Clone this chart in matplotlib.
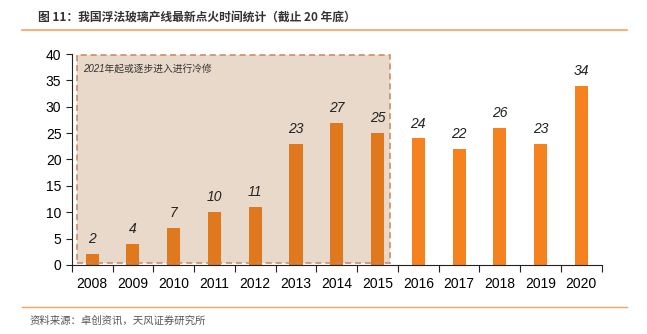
import matplotlib
matplotlib.use("Agg")
import matplotlib.pyplot as plt
from matplotlib.patches import Rectangle

plt.rcParams['font.family'] = ['Liberation Sans', 'Noto Sans CJK SC', 'DejaVu Sans']

years = ['2008', '2009', '2010', '2011', '2012', '2013', '2014', '2015',
         '2016', '2017', '2018', '2019', '2020']
counts = [2, 4, 7, 10, 11, 23, 27, 25, 24, 22, 26, 23, 34]
n_boxed = 8  # 2008-2015 sit inside the shaded box
yticks = [0, 5, 10, 15, 20, 25, 30, 35, 40]
title = '图 11：我国浮法玻璃产线最新点火时间统计（截止 20 年底）'
source = '资料来源：卓创资讯，天风证券研究所'
note = '2021年起或逐步进入进行冷修'

fig = plt.figure(figsize=(6.47, 3.34), dpi=100)
ax = fig.add_axes([0.111, 0.207, 0.819, 0.631])

x = list(range(len(years)))
colors = ['#e0781e' if i < n_boxed else '#f5821f' for i in x]
ax.bar(x, counts, width=0.32, color=colors, zorder=2)
for i, v in zip(x, counts):
    ax.text(i, v + 1.5, str(v), ha='center', va='bottom', fontsize=10,
            style='italic', color='#222222', zorder=4)

# shaded box behind the older lines, dashed border on top
ax.add_patch(Rectangle((-0.38, 0.4), 7.68, 39.4, facecolor='#e9d9cb',
                       edgecolor='none', zorder=1))
ax.add_patch(Rectangle((-0.38, 0.4), 7.68, 39.4, facecolor='none',
                       edgecolor='#c8865c', linestyle=(0, (4, 2.5)),
                       linewidth=1.1, zorder=3))
ax.text(-0.22, 37.3, note, fontsize=7, style='italic', color='#333333',
        ha='left', va='center', zorder=4)

ax.set_xlim(-0.5, len(years) - 0.5)
ax.set_ylim(0, 40)
ax.set_yticks(yticks)
ax.set_xticks([i - 0.5 for i in range(len(years) + 1)], minor=False)
ax.set_xticklabels([''] * (len(years) + 1))
ax.set_xticks(x, minor=True)
ax.set_xticklabels(years, minor=True)
ax.tick_params(axis='x', which='minor', length=0, labelsize=10, pad=9)
ax.tick_params(axis='x', which='major', length=5, direction='out',
               color='#222222')
ax.tick_params(axis='y', labelsize=10, length=4, direction='out',
               color='#222222')
for s in ['top', 'right']:
    ax.spines[s].set_visible(False)
ax.spines['left'].set_color('#222222')
ax.spines['bottom'].set_color('#222222')

fig.text(38 / 647, 1 - 17 / 334, title, fontsize=8.5, fontweight='bold',
         color='#333333', ha='left', va='center',
         family=['Noto Sans CJK SC', 'DejaVu Sans'])
fig.add_artist(plt.Line2D([22 / 647, 627 / 647], [1 - 30 / 334] * 2,
                          color='#f7a35c', linewidth=1.2))
fig.add_artist(plt.Line2D([22 / 647, 627 / 647], [1 - 307 / 334] * 2,
                          color='#f7a35c', linewidth=1.0))
fig.text(30 / 647, 1 - 321 / 334, source, fontsize=7.5, color='#555555',
         ha='left', va='center', family=['Noto Sans CJK SC', 'DejaVu Sans'])

fig.savefig('out.png', dpi=100)
